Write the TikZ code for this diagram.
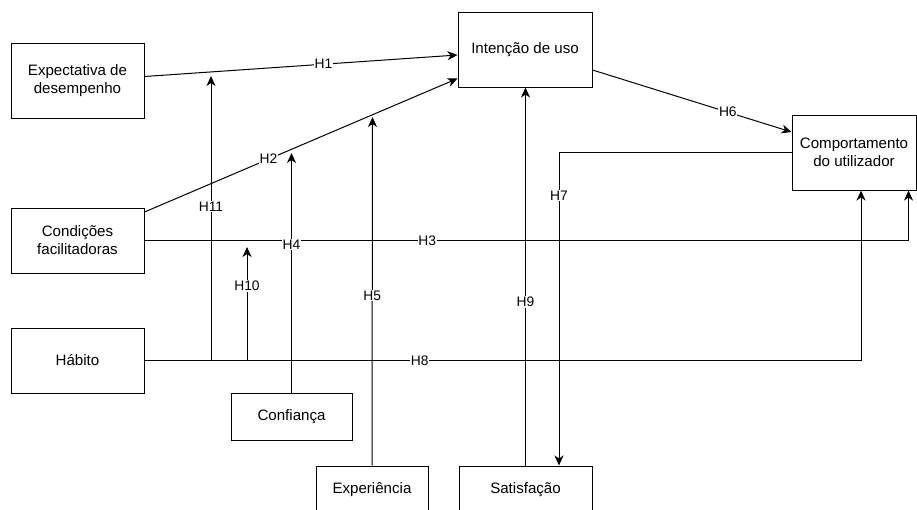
\documentclass[tikz,border=0pt]{standalone}
\usepackage{fontspec}
\setmainfont{Liberation Sans}
\usetikzlibrary{arrows.meta,calc}
\begin{document}
\begin{tikzpicture}[x=1pt,y=-1pt,
  box/.style={draw,line width=1pt,align=center,inner sep=0pt,font=\fontsize{15.1}{18}\selectfont},
  conn/.style={line width=1pt},
  arr/.style={conn,-{Stealth[length=10pt,width=9pt,inset=3pt]}},
  lab/.style={fill=white,inner sep=0.8pt,font=\fontsize{13.8}{16}\selectfont}]
\useasboundingbox (0,0) rectangle (917,509);
\clip (0,0) rectangle (917,509);
% boxes
\node[box,minimum width=133pt,minimum height=75pt] (exp) at (77.5,80.5) {Expectativa de\\desempenho};
\node[box,minimum width=134pt,minimum height=75pt] (int) at (525,49.5) {Intenção de uso};
\node[box,minimum width=124pt,minimum height=75pt] (com) at (854,152.5) {Comportamento\\do utilizador};
\node[box,minimum width=133pt,minimum height=65pt] (cond) at (77.5,240.5) {Condições\\facilitadoras};
\node[box,minimum width=133pt,minimum height=65pt] (hab) at (77.5,360.5) {Hábito};
\node[box,minimum width=121pt,minimum height=47pt] (conf) at (291.5,416.5) {Confiança};
\node[box,minimum width=112pt,minimum height=47pt] (expe) at (372,489.5) {Experiência};
\node[box,minimum width=133pt,minimum height=47pt] (sat) at (525.5,489.5) {Satisfação};
% free-end coordinates
\coordinate (h11s) at (211,360.5);
\coordinate (h11e) at (211,76);
\coordinate (h10s) at (247,360.5);
\coordinate (h10e) at (247,247);
\coordinate (h4e) at (291.5,153);
\coordinate (h5e) at (372.5,117);
% long horizontal connectors first
\draw[arr] (cond.east) -| ([xshift=-8pt]com.south east) node[lab,pos=0.185] {H3};
\draw[arr] (hab.east) -| ([xshift=7pt]com.south) node[lab,pos=0.192] {H8};
% others
\draw[arr] ([yshift=4pt]exp.east) -- ([yshift=-5.5pt]int.west) node[lab,pos=0.572] {H1};
\draw[arr] ([yshift=-4.5pt]cond.north east) -- ([yshift=9pt]int.south west) node[lab,pos=0.396] {H2};
\draw[arr] ([yshift=-20.5pt]int.east) -- ([yshift=20.5pt]com.west) node[lab,pos=0.68] {H6};
\draw[arr] (com.west) -| ([xshift=33.5pt]sat.north) node[lab,pos=0.569] {H7};
\draw[arr] (sat.north) -- (sat.north |- int.south) node[lab,pos=0.433] {H9};
\draw[arr] (conf.north) -- (h4e) node[lab,pos=0.617] {H4};
\draw[arr] (expe.north) -- (h5e) node[lab,pos=0.487] {H5};
\draw[arr] (h10s) -- (h10e) node[lab,pos=0.658] {H10};
\draw[arr] (h11s) -- (h11e) node[lab,pos=0.54] {H11};
\end{tikzpicture}
\end{document}
